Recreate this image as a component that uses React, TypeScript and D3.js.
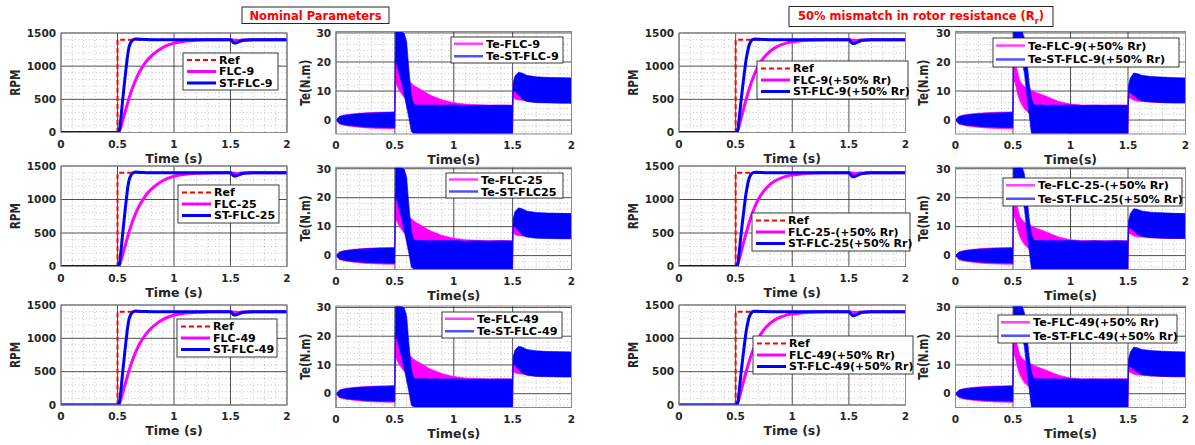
import * as d3 from 'd3';

// ---- speed response data (rpm) ----
const speedTime = [0, 0.5, 0.51, 0.52, 0.53, 0.54, 0.55, 0.56, 0.57, 0.58, 0.59, 0.6, 0.62, 0.64, 0.66, 0.68, 0.7, 0.75, 0.8, 0.85, 0.9, 0.95, 1.0, 1.1, 1.2, 1.3, 1.4, 1.5, 1.51, 1.52, 1.53, 1.54, 1.56, 1.58, 1.6, 1.65, 1.7, 1.8, 2.0];
const refTime = [0, 0.5, 0.5, 2];
const refRpm = [0, 0, 1400, 1400];
const stNomRpm = [0, 0, 10, 70, 220, 390, 560, 720, 880, 1030, 1170, 1270, 1365, 1398, 1410, 1408, 1404, 1401, 1400, 1400, 1400, 1400, 1400, 1400, 1400, 1400, 1400, 1400, 1385, 1365, 1352, 1350, 1358, 1372, 1384, 1396, 1400, 1400, 1400];
const flcNomRpm = [0, 0, 5, 30, 85, 145, 205, 265, 325, 385, 445, 505, 610, 705, 790, 865, 930, 1060, 1155, 1225, 1280, 1320, 1348, 1378, 1392, 1397, 1399, 1400, 1397, 1392, 1388, 1386, 1386, 1389, 1392, 1396, 1398, 1400, 1400];
const stMisRpm = [0, 0, 8, 50, 190, 350, 510, 660, 800, 940, 1070, 1170, 1320, 1385, 1405, 1408, 1404, 1401, 1400, 1400, 1400, 1400, 1400, 1400, 1400, 1400, 1400, 1400, 1382, 1360, 1345, 1340, 1348, 1365, 1380, 1395, 1400, 1400, 1400];
const flcMisRpm = [0, 0, 6, 35, 95, 160, 225, 290, 355, 420, 480, 540, 655, 760, 850, 930, 1000, 1130, 1220, 1280, 1320, 1348, 1365, 1385, 1394, 1398, 1400, 1400, 1397, 1392, 1388, 1386, 1386, 1389, 1392, 1396, 1398, 1400, 1400];

// ---- torque ripple envelopes (N.m) ----
const teTime = [0, 0.03, 0.08, 0.15, 0.25, 0.35, 0.45, 0.499, 0.505, 0.52, 0.54, 0.56, 0.58, 0.6, 0.62, 0.64, 0.66, 0.68, 0.7, 0.75, 0.8, 0.85, 0.9, 1.0, 1.1, 1.2, 1.3, 1.4, 1.499, 1.505, 1.52, 1.55, 1.58, 1.62, 1.7, 1.8, 1.9, 2.0];
const stNomTeHi = [0, 1.2, 1.7, 2.0, 2.35, 2.5, 2.6, 2.65, 30.5, 30.5, 30.5, 30.3, 29.8, 27, 17, 8.5, 5.5, 5.2, 5.2, 5.2, 5.1, 5.2, 5.1, 5.2, 5.0, 5.1, 5.0, 5.1, 5.0, 13, 15.2, 16.5, 16.2, 15.4, 14.9, 14.7, 14.6, 14.5];
const stNomTeLo = [0, -1.2, -1.7, -2.0, -2.35, -2.5, -2.6, -2.65, 21, 18.5, 15.5, 12.5, 8.5, 4.5, 0.5, -4, -4.6, -4.6, -4.6, -4.6, -4.6, -4.6, -4.6, -4.6, -4.6, -4.6, -4.6, -4.6, -4.6, 10, 10, 8.5, 7.2, 6.4, 6.0, 5.9, 5.8, 5.8];
const flcNomTeHi = [0, 1.3, 1.8, 2.2, 2.5, 2.7, 2.8, 2.85, 20.5, 21, 19, 17, 15.5, 14.5, 13.5, 12.8, 12, 11.5, 11, 9.8, 8.6, 7.8, 7.0, 6.0, 5.5, 5.3, 5.2, 5.2, 5.2, 12, 14, 14.3, 14.5, 14.5, 14.5, 14.5, 14.5, 14.5];
const flcNomTeLo = [0, -1.4, -1.9, -2.3, -2.7, -2.9, -3.0, -3.0, 13, 11.5, 10, 8.8, 7.8, 7, 6.4, 5.8, 5.3, 4.7, 4.2, 2.8, 1.5, 0.3, -1, -2.8, -4, -4.6, -4.6, -4.6, -4.6, 8, 7.2, 6.9, 6.8, 6.6, 6.3, 6.1, 6.0, 5.9];
const stMisTeHi = [0, 1.2, 1.7, 2.0, 2.3, 2.45, 2.55, 2.6, 30.5, 30.5, 30.5, 30.5, 30.5, 28, 21, 13, 7.5, 5.3, 5.2, 5.2, 5.1, 5.2, 5.1, 5.2, 5.0, 5.1, 5.0, 5.1, 5.0, 12, 14.5, 16.2, 16, 15.4, 15, 14.8, 14.6, 14.5];
const stMisTeLo = [0, -1.2, -1.7, -2.0, -2.3, -2.45, -2.55, -2.6, 24, 23, 22, 21, 20, 16, 9, 2, -4.6, -4.6, -4.6, -4.6, -4.6, -4.6, -4.6, -4.6, -4.6, -4.6, -4.6, -4.6, -4.6, 9, 9.5, 8.5, 7.5, 6.6, 6.2, 6.0, 5.9, 5.9];
const flcMisTeHi = [0, 1.3, 1.8, 2.2, 2.5, 2.7, 2.8, 2.85, 19.5, 20, 16.5, 13.5, 12.3, 11.6, 11.1, 10.7, 10.3, 9.9, 9.5, 8.8, 8.0, 7.2, 6.4, 5.5, 5.2, 5.2, 5.2, 5.2, 5.2, 11, 13.5, 14.2, 14.5, 14.5, 14.5, 14.5, 14.5, 14.5];
const flcMisTeLo = [0, -1.4, -1.9, -2.3, -2.7, -2.9, -3.0, -3.0, 14, 12.5, 9, 6.5, 5, 3.8, 3, 2.2, 1.5, 0.8, 0.2, -1.2, -2.4, -3.3, -4, -4.6, -4.6, -4.6, -4.6, -4.6, -4.6, 7.5, 7.5, 6.8, 6.5, 6.4, 6.2, 6.0, 5.9, 5.9];

// ---- ticks ----
const timeTicks = [0, 0.5, 1, 1.5, 2];
const rpmTicks = [0, 500, 1000, 1500];
const teTicks = [0, 10, 20, 30];

// ---- labels ----
const titles = ['Nominal Parameters', '50% mismatch in rotor resistance (R'];
const rpmLegendNom = [['Ref', 'FLC-9', 'ST-FLC-9'], ['Ref', 'FLC-25', 'ST-FLC-25'], ['Ref', 'FLC-49', 'ST-FLC-49']];
const rpmLegendMis = [['Ref', 'FLC-9(+50% Rr)', 'ST-FLC-9(+50% Rr)'], ['Ref', 'FLC-25-(+50% Rr)', 'ST-FLC-25(+50% Rr)'], ['Ref', 'FLC-49(+50% Rr)', 'ST-FLC-49(+50% Rr)']];
const teLegendNom = [['Te-FLC-9', 'Te-ST-FLC-9'], ['Te-FLC-25', 'Te-ST-FLC25'], ['Te-FLC-49', 'Te-ST-FLC-49']];
const teLegendMis = [['Te-FLC-9(+50% Rr)', 'Te-ST-FLC-9(+50% Rr)'], ['Te-FLC-25-(+50% Rr)', 'Te-ST-FLC-25(+50% Rr)'], ['Te-FLC-49(+50% Rr)', 'Te-ST-FLC-49(+50% Rr)']];

// ---- layout ----
const FONT = '"DejaVu Sans", Verdana, sans-serif';
const MAG = '#ff00ff';
const BLUE = '#0000ff';
const rpmRows = [[33, 132.5], [166, 266.5], [305, 405]];
const teRows = [[31.5, 134], [167.3, 269.5], [306, 407.5]];
const cols = { rpmL: [61, 287], teL: [336, 571.5], rpmR: [679, 905.5], teR: [955.5, 1185.5] };
const yLabelX = { rpmL: 15, teL: 305, rpmR: 633, teR: 923 };
const rpmLegBoxL = [[183, 53, 95, 37], [178, 185, 101, 38], [177, 319, 100, 38]];
const rpmLegBoxR = [[757, 61, 151, 38], [752, 213, 158, 38], [753, 336, 160, 38]];
const teLegBoxL = [[451, 37, 112, 26], [446, 173, 117, 25], [442, 312, 120, 26]];
const teLegBoxR = [[993, 38, 186, 29], [1003, 178, 179, 28], [998, 315, 179, 28]];

type Box = number[];

function Frame({ id, x, y, yDomain, yTicks, yMinor, yLabel, yLabX, xLabel, children }: any) {
  const sx = d3.scaleLinear().domain([0, 2]).range(x);
  const sy = d3.scaleLinear().domain(yDomain).range([y[1], y[0]]);
  const xMinor = d3.range(0, 2.001, 0.1).filter(v => !timeTicks.some(t => Math.abs(t - v) < 1e-6));
  const yMin = yMinor.filter((v: number) => !yTicks.includes(v) && v > yDomain[0] && v < yDomain[1]);
  const midY = (y[0] + y[1]) / 2;
  return (
    <g>
      <defs>
        <clipPath id={id}>
          <rect x={x[0]} y={y[0]} width={x[1] - x[0]} height={y[1] - y[0]} />
        </clipPath>
      </defs>
      <rect x={x[0]} y={y[0]} width={x[1] - x[0]} height={y[1] - y[0]} fill="#fff" />
      <g stroke="#262626" strokeOpacity={0.35} strokeWidth={0.8} strokeDasharray="1 2.5">
        {xMinor.map(v => <line key={'xm' + v} x1={sx(v)} x2={sx(v)} y1={y[0]} y2={y[1]} />)}
        {yMin.map((v: number) => <line key={'ym' + v} x1={x[0]} x2={x[1]} y1={sy(v)} y2={sy(v)} />)}
      </g>
      <g stroke="#262626" strokeOpacity={0.8} strokeWidth={1}>
        {timeTicks.map(v => <line key={'xg' + v} x1={sx(v)} x2={sx(v)} y1={y[0]} y2={y[1]} />)}
        {yTicks.map((v: number) => <line key={'yg' + v} x1={x[0]} x2={x[1]} y1={sy(v)} y2={sy(v)} />)}
      </g>
      <g clipPath={`url(#${id})`}>{children(sx, sy)}</g>
      <rect x={x[0]} y={y[0]} width={x[1] - x[0]} height={y[1] - y[0]} fill="none" stroke="#8a8a8a" strokeWidth={1} />
      <g fontFamily={FONT} fontWeight="bold" fontSize={10.5} fill="#262626">
        {timeTicks.map(v => (
          <text key={'xt' + v} x={sx(v)} y={y[1] + 15} textAnchor="middle">{v}</text>
        ))}
        {yTicks.map((v: number) => (
          <text key={'yt' + v} x={x[0] - 5} y={sy(v)} dy="0.36em" textAnchor="end">{v}</text>
        ))}
      </g>
      <text x={(x[0] + x[1]) / 2} y={y[1] + 30} textAnchor="middle" fontFamily={FONT} fontWeight="bold" fontSize={12.5} fill="#262626">{xLabel}</text>
      <text transform={`translate(${yLabX},${midY}) rotate(-90) scale(1,1.3)`} dy="0.36em" textAnchor="middle" fontFamily={FONT} fontWeight="bold" fontSize={10.5} fill="#262626">{yLabel}</text>
    </g>
  );
}

function SpeedLegend({ box, labels }: { box: Box; labels: string[] }) {
  const [bx, by, bw, bh] = box;
  const offs = [bh / 2 - 11.5, bh / 2, bh / 2 + 11.5];
  const styles = [
    { stroke: '#ff0000', w: 2, dash: '5 3' },
    { stroke: MAG, w: 3, dash: undefined },
    { stroke: BLUE, w: 3, dash: undefined },
  ];
  return (
    <g>
      <rect x={bx} y={by} width={bw} height={bh} fill="#fff" stroke="#262626" strokeWidth={0.9} />
      {labels.map((l, i) => (
        <g key={l}>
          <line x1={bx + 4} x2={bx + 33} y1={by + offs[i]} y2={by + offs[i]} stroke={styles[i].stroke} strokeWidth={styles[i].w} strokeDasharray={styles[i].dash} />
          <text x={bx + 36} y={by + offs[i]} dy="0.36em" fontFamily={FONT} fontWeight="bold" fontSize={11} fill="#000">{l}</text>
        </g>
      ))}
    </g>
  );
}

function TorqueLegend({ box, labels }: { box: Box; labels: string[] }) {
  const [bx, by, bw, bh] = box;
  const offs = [bh / 2 - bh * 0.24, bh / 2 + bh * 0.24];
  const cols2 = ['#ff40ff', '#5050ff'];
  return (
    <g>
      <rect x={bx} y={by} width={bw} height={bh} fill="#fff" stroke="#262626" strokeWidth={0.9} />
      {labels.map((l, i) => (
        <g key={l}>
          <line x1={bx + 3} x2={bx + 32} y1={by + offs[i]} y2={by + offs[i]} stroke={cols2[i]} strokeWidth={2.5} />
          <text x={bx + 35} y={by + offs[i]} dy="0.36em" fontFamily={FONT} fontWeight="bold" fontSize={11.2} fill="#000">{l}</text>
        </g>
      ))}
    </g>
  );
}

function SpeedPanel({ id, x, y, flc, st, legBox, labels, yLabX }: any) {
  return (
    <g>
      <Frame id={id} x={x} y={y} yDomain={[0, 1500]} yTicks={rpmTicks} yMinor={d3.range(0, 1501, 100)} yLabel="RPM" yLabX={yLabX} xLabel="Time (s)">
        {(sx: any, sy: any) => {
          const line = d3.line<number>().x((_, i) => sx(speedTime[i])).y(d => sy(d)).curve(d3.curveMonotoneX);
          const refLine = d3.line<number>().x((_, i) => sx(refTime[i])).y(d => sy(d));
          return (
            <g fill="none">
              <path d={refLine(refRpm) || ''} stroke="#ff0000" strokeWidth={2} strokeDasharray="5 3" />
              <path d={line(flc) || ''} stroke={MAG} strokeWidth={3} />
              <path d={line(st) || ''} stroke={BLUE} strokeWidth={3} />
            </g>
          );
        }}
      </Frame>
      <SpeedLegend box={legBox} labels={labels} />
    </g>
  );
}

function TorquePanel({ id, x, y, flcHi, flcLo, stHi, stLo, legBox, labels, yLabX }: any) {
  return (
    <g>
      <Frame id={id} x={x} y={y} yDomain={[-4.8, 30.5]} yTicks={teTicks} yMinor={d3.range(-4, 31, 2)} yLabel="Te(N.m)" yLabX={yLabX} xLabel="Time(s)">
        {(sx: any, sy: any) => {
          const band = (hi: number[], lo: number[]) =>
            d3.area<number>().x((_, i) => sx(teTime[i])).y0((_, i) => sy(lo[i])).y1(d => sy(d))(hi) || '';
          return (
            <g>
              <path d={band(flcHi, flcLo)} fill={MAG} stroke={MAG} strokeWidth={0.6} />
              <path d={band(stHi, stLo)} fill={BLUE} stroke={BLUE} strokeWidth={0.6} />
            </g>
          );
        }}
      </Frame>
      <TorqueLegend box={legBox} labels={labels} />
    </g>
  );
}

export default function App() {
  return (
    <svg width={1195} height={445} style={{ position: 'absolute', left: 0, top: 0, background: '#fff' }}>
      <rect width={1195} height={445} fill="#fff" />
      {rpmRows.map((r, i) => (
        <g key={'row' + i}>
          <SpeedPanel id={`sl${i}`} x={cols.rpmL} y={r} flc={flcNomRpm} st={stNomRpm} legBox={rpmLegBoxL[i]} labels={rpmLegendNom[i]} yLabX={yLabelX.rpmL} />
          <TorquePanel id={`tl${i}`} x={cols.teL} y={teRows[i]} flcHi={flcNomTeHi} flcLo={flcNomTeLo} stHi={stNomTeHi} stLo={stNomTeLo} legBox={teLegBoxL[i]} labels={teLegendNom[i]} yLabX={yLabelX.teL} />
          <SpeedPanel id={`sr${i}`} x={cols.rpmR} y={r} flc={flcMisRpm} st={stMisRpm} legBox={rpmLegBoxR[i]} labels={rpmLegendMis[i]} yLabX={yLabelX.rpmR} />
          <TorquePanel id={`tr${i}`} x={cols.teR} y={teRows[i]} flcHi={flcMisTeHi} flcLo={flcMisTeLo} stHi={stMisTeHi} stLo={stMisTeLo} legBox={teLegBoxR[i]} labels={teLegendMis[i]} yLabX={yLabelX.teR} />
        </g>
      ))}
      {/* title boxes */}
      <rect x={242} y={7} width={147} height={16.5} fill="#fff" stroke="#262626" strokeWidth={1} />
      <text x={315.5} y={15.5} dy="0.36em" textAnchor="middle" fontFamily={FONT} fontWeight="bold" fontSize={11.5} fill="#ff0000">{titles[0]}</text>
      <rect x={789} y={6.5} width={264} height={20} fill="#fff" stroke="#262626" strokeWidth={1} />
      <text x={921} y={15.5} dy="0.36em" textAnchor="middle" fontFamily={FONT} fontWeight="bold" fontSize={11.5} fill="#ff0000">
        {titles[1]}
        <tspan fontSize={8} dy={4}>r</tspan>
        <tspan dy={-4}>)</tspan>
      </text>
    </svg>
  );
}
